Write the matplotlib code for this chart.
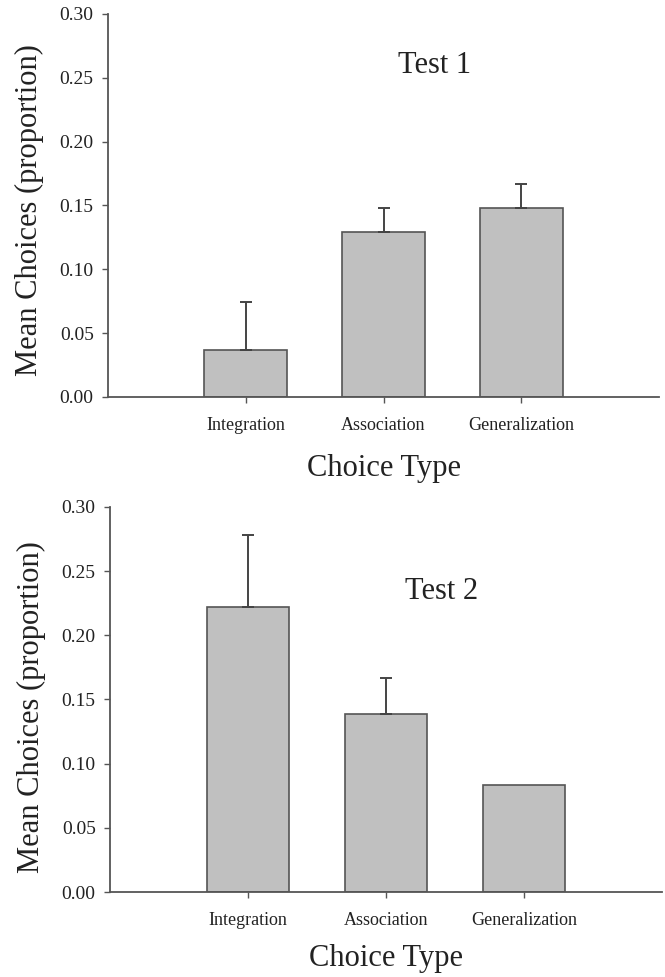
import matplotlib
matplotlib.use("Agg")
import matplotlib.pyplot as plt
import numpy as np

categories = ["Integration", "Association", "Generalization"]
test1_means = [0.037, 0.129, 0.148]
test1_err = [0.037, 0.019, 0.019]
test2_means = [0.222, 0.139, 0.083]
test2_err = [0.056, 0.028, 0.0]
yticks = [0.00, 0.05, 0.10, 0.15, 0.20, 0.25, 0.30]
panel_titles = ["Test 1", "Test 2"]

plt.rcParams['font.family'] = ['Liberation Serif', 'DejaVu Serif']

fig = plt.figure(figsize=(6.65, 9.77), dpi=100)
ax1 = fig.add_axes([0.1624, 0.5937, 0.8286, 0.3920])
ax2 = fig.add_axes([0.1654, 0.0870, 0.8300, 0.3941])

edge = '#555555'
panels = [
    (ax1, test1_means, test1_err, panel_titles[0], (1.374, 0.26), -0.116, 0.488, -0.148),
    (ax2, test2_means, test2_err, panel_titles[1], (1.406, 0.234), -0.116, 0.48, -0.135),
]
for ax, means, errs, title, tpos, ylx, yly, xly in panels:
    x = np.arange(len(categories))
    ax.bar(x, means, width=0.6, color='#c0c0c0', edgecolor=edge, linewidth=1.2, zorder=2)
    idx = [i for i, e in enumerate(errs) if e > 0]
    ax.errorbar(x[idx], np.array(means)[idx],
                yerr=[np.zeros(len(idx)), np.array(errs)[idx]],
                fmt='none', ecolor='#444444', elinewidth=1.4, capsize=4.3,
                capthick=1.4, zorder=3)
    ax.set_xlim(-1, 3)
    ax.set_ylim(0, 0.30)
    ax.set_yticks(yticks)
    ax.set_yticklabels([f"{v:.2f}" for v in yticks])
    ax.set_xticks(x)
    ax.set_xticklabels(categories)
    for s in ['top', 'right']:
        ax.spines[s].set_visible(False)
    for s in ['left', 'bottom']:
        ax.spines[s].set_color(edge)
        ax.spines[s].set_linewidth(1.3)
    ax.tick_params(axis='y', direction='out', length=4.3, width=1.0, color=edge,
                   labelsize=14, pad=6, labelcolor='#222222')
    ax.tick_params(axis='x', direction='out', length=4.3, width=1.0, color=edge,
                   labelsize=13, pad=10, labelcolor='#222222')
    ax.set_ylabel("Mean Choices (proportion)", fontsize=22, color='#222222')
    ax.yaxis.set_label_coords(ylx, yly)
    ax.set_xlabel("Choice Type", fontsize=22, color='#222222')
    ax.xaxis.set_label_coords(0.5, xly)
    ax.text(tpos[0], tpos[1], title, fontsize=22, ha='center', va='center',
            color='#222222')

fig.savefig("out.png", dpi=100)
